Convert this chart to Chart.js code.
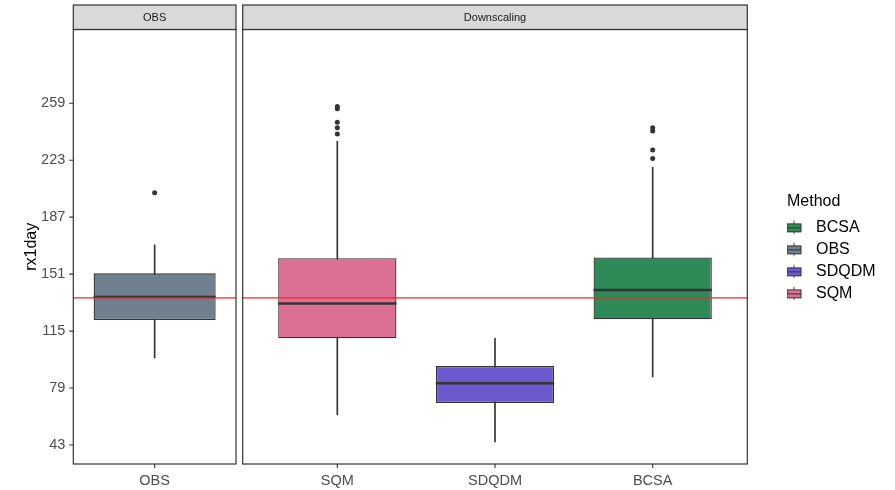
<!DOCTYPE html>
<html>
<head>
<meta charset="utf-8">
<script src="https://cdn.jsdelivr.net/npm/chart.js@4.4.1/dist/chart.umd.min.js"></script>
<style>
  body { margin: 0; background: #fff; }
  #wrap { position: relative; width: 895px; height: 490px; }
  canvas { position: absolute; top: 0; }
</style>
</head>
<body>
<div id="wrap">
  <canvas id="chartObs" width="240" height="490" style="left:0"></canvas>
  <canvas id="chartDown" width="655" height="490" style="left:240px"></canvas>
</div>
<script>
// values
const methods = ['OBS', 'SQM', 'SDQDM', 'BCSA'];
const panels = ['OBS', 'Downscaling'];
const panelMethods = [['OBS'], ['SQM', 'SDQDM', 'BCSA']];
const lowWhisker = [98, 62, 45, 86];
const q1 = [122, 110.5, 69.5, 122.5];
const median = [136.5, 132.5, 82, 141];
const q3 = [151.5, 161, 93, 161.5];
const highWhisker = [169.5, 235, 110.5, 218.5];
const outliers = [[202.5], [257, 255.5, 247, 243.5, 239.5], [], [243.5, 241.5, 229.5, 224]];
const obsMedian = 136;
const yTicks = [43, 79, 115, 151, 187, 223, 259];
const yRange = [31, 305.6];
const legendOrder = ['BCSA', 'OBS', 'SDQDM', 'SQM'];

const colors = ['#708090', '#DB7093', '#6A5ACD', '#2E8B57'];
const FONT = '"Liberation Sans", Arial, sans-serif';
Chart.defaults.font.family = FONT;

// little boxplot key for the legend
const keyGlyph = (color) => {
    const c = document.createElement('canvas');
    c.width = 30; c.height = 16;
    const g = c.getContext('2d');
    g.strokeStyle = '#333'; g.lineWidth = 1;
    g.beginPath(); g.moveTo(8.5, 1.5); g.lineTo(8.5, 14.5); g.stroke();
    g.fillStyle = color;
    g.fillRect(1.5, 4.5, 14, 8);
    g.strokeRect(1.5, 4.5, 14, 8);
    g.beginPath(); g.moveTo(1.5, 8.5); g.lineTo(15.5, 8.5); g.stroke();
    return c;
}

const panelPlugin = {
    id: 'panel',
    afterDatasetsDraw(chart, args, opts) {
        const { ctx, chartArea: a, scales: { y } } = chart;
        const idx = opts.methodIdx;
        ctx.save();
        // medians on top of the boxes
        const boxes = chart.getDatasetMeta(1).data;
        ctx.strokeStyle = '#333'; ctx.lineWidth = 2.5;
        boxes.forEach((bar, i) => {
            const yy = y.getPixelForValue(median[idx[i]]);
            ctx.beginPath();
            ctx.moveTo(bar.x - bar.width / 2, yy);
            ctx.lineTo(bar.x + bar.width / 2, yy);
            ctx.stroke();
        });
        // OBS median reference line
        const yr = y.getPixelForValue(obsMedian);
        ctx.strokeStyle = '#ff2020'; ctx.lineWidth = 1.3;
        ctx.beginPath(); ctx.moveTo(a.left, yr); ctx.lineTo(a.right, yr); ctx.stroke();
        ctx.restore();
    },
    afterDraw(chart, args, opts) {
        const { ctx, chartArea: a, scales: { x, y } } = chart;
        ctx.save();
        // panel border + strip
        ctx.strokeStyle = '#333'; ctx.lineWidth = 1.2;
        ctx.strokeRect(a.left, a.top, a.right - a.left, a.bottom - a.top);
        ctx.fillStyle = '#d9d9d9';
        ctx.fillRect(a.left, 5, a.right - a.left, a.top - 5);
        ctx.strokeRect(a.left, 5, a.right - a.left, a.top - 5);
        ctx.fillStyle = '#1a1a1a';
        ctx.font = '11px ' + FONT;
        ctx.textAlign = 'center'; ctx.textBaseline = 'middle';
        ctx.fillText(opts.strip, (a.left + a.right) / 2, (5 + a.top) / 2 + 0.5);
        // tick marks
        ctx.lineWidth = 1.1;
        ctx.beginPath();
        x.ticks.forEach(t => {
            const px = x.getPixelForValue(t.value);
            ctx.moveTo(px, a.bottom); ctx.lineTo(px, a.bottom + 4);
        });
        if (y.options.position === 'left') {
            y.ticks.forEach(t => {
                const py = y.getPixelForValue(t.value);
                ctx.moveTo(a.left, py); ctx.lineTo(a.left - 4, py);
            });
        }
        ctx.stroke();
        ctx.restore();
    }
};

const buildPanel = (canvasId, p) => {
    const names = panelMethods[p];
    const idx = names.map(n => methods.indexOf(n));
    const xs = names.map((n, i) => i + 1);
    const isObs = p === 0;

    const outlierPts = [];
    idx.forEach((m, i) => outliers[m].forEach(v => outlierPts.push({ x: xs[i], y: v })));

    const tickFont = { size: 14.5, family: FONT };

    let padRight = 4;
    let legend = { display: false };
    if (!isObs) {
        const m = document.createElement('canvas').getContext('2d');
        m.font = '16px ' + FONT;
        const longest = Math.max(...legendOrder.map(t => m.measureText(t).width));
        const legendWidth = 6 + 15 + 8 + longest + 10;
        padRight = 655 - 2.7 - 504.6 - 39.7 - legendWidth;
        legend = {
            display: true,
            position: 'right',
            align: 'center',
            fullSize: false,
            title: { display: true, text: 'Method', color: '#000', position: 'start',
                     font: { size: 16, family: FONT }, padding: { top: 7.5, bottom: 0.5 } },
            labels: {
                usePointStyle: true,
                pointStyleWidth: 15,
                padding: 6,
                color: '#000',
                font: { size: 16, family: FONT },
                generateLabels: () => legendOrder.map(n => ({
                    text: n,
                    pointStyle: keyGlyph(colors[methods.indexOf(n)]),
                    fillStyle: colors[methods.indexOf(n)],
                    strokeStyle: '#333',
                    lineWidth: 0,
                    hidden: false,
                    datasetIndex: 1
                }))
            }
        };
    }

    return new Chart(document.getElementById(canvasId), {
        type: 'bar',
        data: {
            datasets: [
                {
                    type: 'scatter',
                    data: outlierPts,
                    backgroundColor: '#333',
                    borderWidth: 0,
                    pointRadius: 2.5,
                    pointHoverRadius: 2.5,
                    order: 0
                },
                {
                    data: xs.map((x, i) => ({ x, y: [q1[idx[i]], q3[idx[i]]] })),
                    backgroundColor: idx.map(m => colors[m]),
                    borderColor: '#333',
                    borderWidth: 1.3,
                    borderSkipped: false,
                    grouped: false,
                    barPercentage: 0.75,
                    categoryPercentage: 1,
                    order: 1
                },
                {
                    data: xs.map((x, i) => ({ x, y: [lowWhisker[idx[i]], highWhisker[idx[i]]] })),
                    backgroundColor: '#333',
                    barThickness: 1,
                    grouped: false,
                    order: 2
                }
            ]
        },
        options: {
            responsive: false,
            animation: false,
            events: [],
            layout: { padding: { top: 29.5, bottom: 0, left: isObs ? 0 : 2.7, right: padRight } },
            plugins: {
                legend,
                tooltip: { enabled: false },
                panel: { methodIdx: idx, strip: panels[p] }
            },
            scales: {
                x: {
                    type: 'linear',
                    offset: false,
                    min: 0.4,
                    max: xs.length + 0.6,
                    afterBuildTicks: s => { s.ticks = xs.map(v => ({ value: v })); },
                    afterFit: s => { s.height = 26; },
                    grid: { display: false, drawTicks: true, tickLength: 4 },
                    border: { display: false },
                    ticks: { callback: (v, i) => names[i], font: tickFont, color: '#4d4d4d',
                             padding: 4, maxRotation: 0, autoSkip: false }
                },
                y: isObs ? {
                    min: yRange[0],
                    max: yRange[1],
                    afterBuildTicks: s => { s.ticks = yTicks.map(v => ({ value: v })); },
                    afterFit: s => { s.width = 73.3; },
                    grid: { display: false, drawTicks: true, tickLength: 4 },
                    border: { display: false },
                    ticks: { font: tickFont, color: '#4d4d4d', padding: 4 },
                    title: { display: true, text: 'rx1day', color: '#000',
                             font: { size: 16, family: FONT }, padding: { top: 21.5, bottom: 0 } }
                } : {
                    position: 'right',
                    min: yRange[0],
                    max: yRange[1],
                    afterFit: s => { s.width = 39.7; },
                    grid: { display: false },
                    border: { display: false },
                    ticks: { display: false }
                }
            }
        },
        plugins: [panelPlugin]
    });
}

buildPanel('chartObs', 0);
buildPanel('chartDown', 1);
</script>
</body>
</html>
